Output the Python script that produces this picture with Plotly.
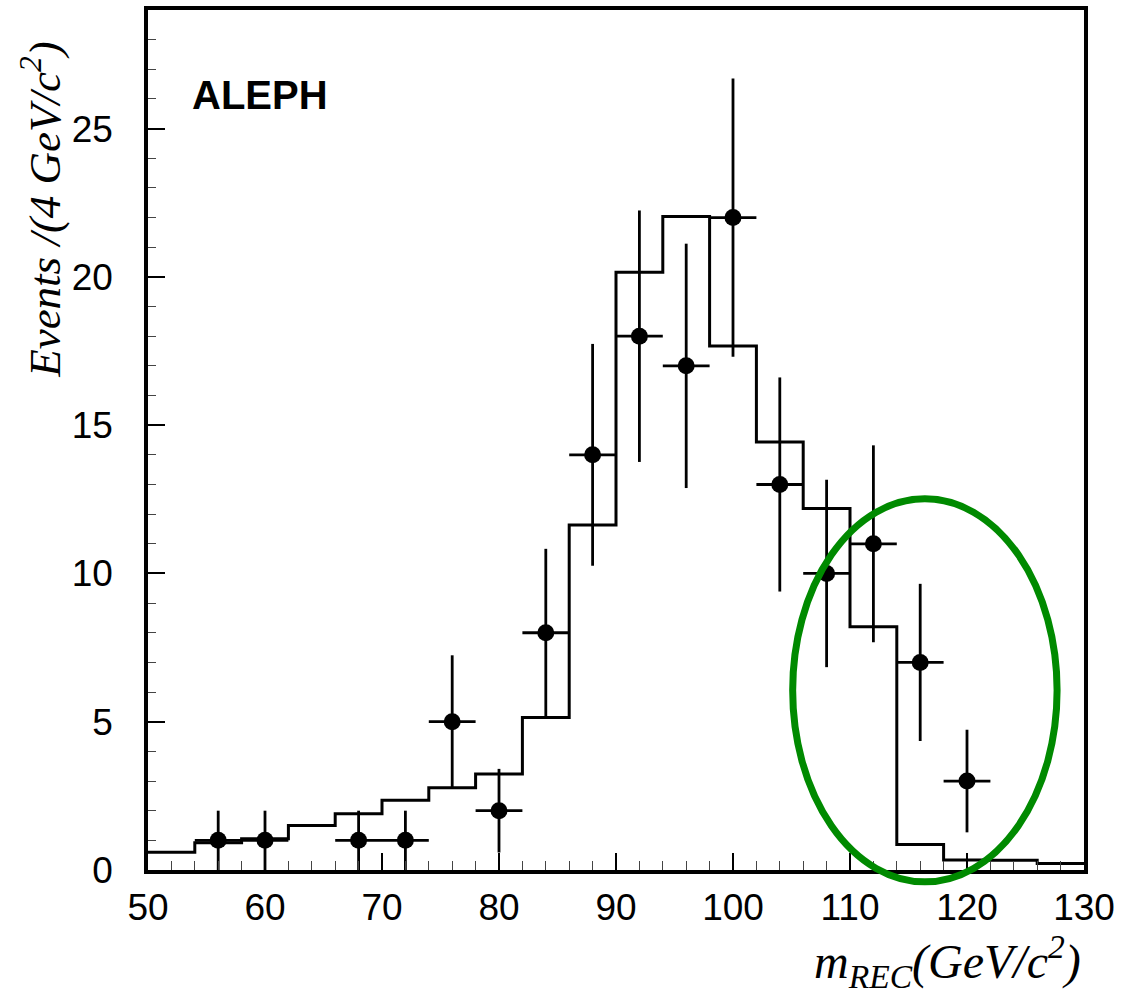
import plotly.graph_objects as go

# ---------------- data ----------------
bin_edges = [50, 54, 58, 62, 66, 70, 74, 78, 82, 86, 90, 94, 98, 102, 106, 110, 114, 118, 122, 126, 130]
mc_counts = [0.6, 0.92, 1.05, 1.5, 1.9, 2.35, 2.77, 3.24, 5.14, 11.63, 20.16, 22.04, 17.67, 14.43,
             12.19, 8.2, 0.86, 0.34, 0.33, 0.22]

data_x = [56, 60, 68, 72, 76, 80, 84, 88, 92, 96, 100, 104, 108, 112, 116, 120]
data_y = [1, 1, 1, 1, 5, 2, 8, 14, 18, 17, 22, 13, 10, 11, 7, 3]
data_err = [1.0, 1.0, 1.0, 1.0, 2.24, 1.41, 2.83, 3.74, 4.24, 4.12, 4.69, 3.61, 3.16, 3.32, 2.65, 1.73]
data_xerr = [2] * len(data_x)

x_ticks = [50, 60, 70, 80, 90, 100, 110, 120, 130]
y_ticks = [0, 5, 10, 15, 20, 25]
X_RANGE = [50, 130]
Y_RANGE = [0, 29]

# highlight ellipse (data units)
ell_x = [105.1, 127.7]
ell_y = [-0.4, 12.52]

# ---------------- figure ----------------
fig = go.Figure()

fig.add_trace(go.Scatter(
    x=bin_edges,
    y=mc_counts + [mc_counts[-1]],
    mode="lines",
    line=dict(color="black", width=3, shape="hv"),
    hoverinfo="skip",
    showlegend=False,
))

fig.add_trace(go.Scatter(
    x=data_x, y=data_y,
    mode="markers",
    marker=dict(color="black", size=17, symbol="circle"),
    error_y=dict(type="data", array=data_err, color="black", thickness=2.8, width=0),
    error_x=dict(type="data", array=data_xerr, color="black", thickness=2.8, width=0),
    showlegend=False,
))

def xd(v):
    return (v - X_RANGE[0]) / (X_RANGE[1] - X_RANGE[0])

def yd(v):
    return (v - Y_RANGE[0]) / (Y_RANGE[1] - Y_RANGE[0])

fig.add_shape(
    type="circle", xref="x domain", yref="y domain",
    x0=xd(ell_x[0]), x1=xd(ell_x[1]), y0=yd(ell_y[0]), y1=yd(ell_y[1]),
    line=dict(color="#008a00", width=7), layer="above",
)

tick_font = dict(family="Liberation Sans, Arial, sans-serif", size=37, color="black")

fig.update_xaxes(
    range=X_RANGE, tickvals=x_ticks, ticktext=[str(v) for v in x_ticks],
    ticks="inside", ticklen=17, tickwidth=1.5, tickcolor="black",
    minor=dict(dtick=2, ticks="inside", ticklen=9, tickwidth=1.2, tickcolor="#444"),
    showline=True, linecolor="black", linewidth=3.5, mirror=True,
    showgrid=False, zeroline=False, tickfont=tick_font, ticklabelstandoff=2,
)
fig.update_yaxes(
    range=Y_RANGE, tickvals=y_ticks, ticktext=[str(v) for v in y_ticks],
    ticks="inside", ticklen=17, tickwidth=1.5, tickcolor="black",
    minor=dict(dtick=1, ticks="inside", ticklen=8, tickwidth=1.2, tickcolor="#444"),
    showline=True, linecolor="black", linewidth=3.5, mirror=True,
    showgrid=False, zeroline=False, tickfont=tick_font, ticklabelstandoff=24,
)

fig.add_annotation(
    text="<b>ALEPH</b>", xref="paper", yref="paper", x=0.045, y=0.9016,
    xanchor="left", yanchor="middle", showarrow=False,
    font=dict(family="Liberation Sans, Arial, sans-serif", size=40, color="black"),
)
fig.add_annotation(
    text="<i>Events /(4 GeV/c<sup>2</sup>)</i>", xref="paper", yref="paper",
    x=-0.114, y=0.768, xanchor="center", yanchor="middle", textangle=-90, showarrow=False,
    font=dict(family="Liberation Serif, Times New Roman, serif", size=45, color="black"),
)
fig.add_annotation(
    text="<i>m<sub>REC</sub>(GeV/c<sup>2</sup>)</i>", xref="paper", yref="paper",
    x=0.999, y=-0.106, xanchor="right", yanchor="middle", showarrow=False,
    font=dict(family="Liberation Serif, Times New Roman, serif", size=48, color="black"),
)

fig.update_layout(
    width=1122, height=999,
    margin=dict(l=148, r=38, t=6, b=129),
    paper_bgcolor="white", plot_bgcolor="white",
    showlegend=False,
)

fig.write_html("out.html")
